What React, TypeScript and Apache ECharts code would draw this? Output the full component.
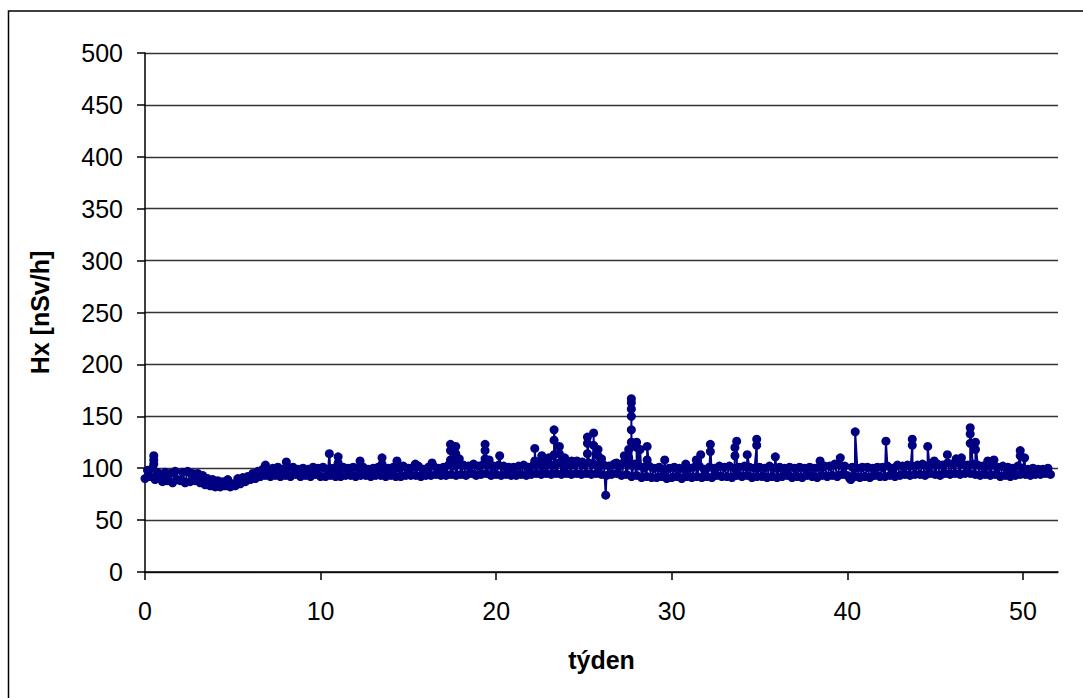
import React, { useEffect, useRef } from "react";
import * as echarts from "echarts";

// x-axis ticks (weeks) and y-axis ticks (nSv/h)
const xTickValues = [0, 10, 20, 30, 40, 50];
const yMin = 0;
const yMax = 500;
const yStep = 50;
const xMax = 52;

// Daily readings (7 per week), Hx in nSv/h
const baseline: number[] = [
  90, 98, 92, 100, 89, 96, 91, // week 0
  87, 96, 88, 95, 86, 97, 89, // 1
  88, 96, 86, 97, 87, 95, 88, // 2
  95, 86, 93, 84, 90, 83, 89, // 3
  82, 88, 82, 87, 83, 89, 82, // 4
  85, 83, 90, 85, 91, 87, 92, // 5
  89, 95, 90, 97, 92, 99, 93, // 6
  99, 92, 100, 93, 101, 92, 99, // 7
  93, 100, 92, 101, 94, 99, 92, // 8
  100, 93, 99, 92, 101, 94, 100, // 9
  92, 101, 92, 99, 93, 100, 92, // 10
  99, 92, 101, 93, 100, 93, 101, // 11
  92, 100, 93, 101, 93, 99, 92, // 12
  100, 93, 101, 93, 99, 92, 100, // 13
  93, 101, 92, 100, 92, 102, 93, // 14
  100, 93, 101, 93, 102, 92, 99, // 15
  93, 101, 93, 102, 94, 100, 93, // 16
  101, 93, 103, 94, 102, 93, 104, // 17
  94, 103, 93, 102, 95, 104, 93, // 18
  102, 94, 104, 95, 103, 93, 102, // 19
  94, 103, 93, 102, 94, 101, 93, // 20
  101, 93, 102, 94, 103, 93, 101, // 21
  94, 103, 95, 104, 94, 102, 95, // 22
  104, 94, 103, 95, 105, 94, 102, // 23
  95, 104, 94, 103, 95, 105, 94, // 24
  103, 95, 105, 94, 104, 95, 102, // 25
  94, 103, 93, 102, 94, 104, 95, // 26
  102, 93, 105, 94, 103, 92, 104, // 27
  93, 102, 91, 101, 92, 102, 91, // 28
  100, 91, 101, 92, 99, 90, 100, // 29
  91, 101, 92, 100, 90, 99, 92, // 30
  100, 91, 101, 92, 102, 91, 99, // 31
  92, 101, 91, 100, 93, 102, 92, // 32
  101, 92, 102, 91, 100, 93, 101, // 33
  92, 102, 93, 101, 91, 100, 92, // 34
  101, 92, 100, 91, 102, 92, 100, // 35
  91, 101, 92, 100, 93, 101, 91, // 36
  100, 92, 101, 91, 100, 93, 101, // 37
  92, 100, 91, 101, 93, 102, 92, // 38
  102, 93, 104, 92, 103, 94, 102, // 39
  93, 90, 101, 92, 100, 91, 101, // 40
  92, 101, 91, 100, 93, 101, 92, // 41
  101, 92, 102, 93, 100, 92, 103, // 42
  93, 102, 94, 103, 93, 102, 94, // 43
  103, 94, 104, 93, 102, 95, 103, // 44
  94, 104, 93, 103, 95, 105, 94, // 45
  104, 95, 105, 94, 104, 95, 103, // 46
  95, 104, 94, 103, 93, 102, 94, // 47
  102, 93, 103, 94, 101, 92, 102, // 48
  93, 101, 92, 100, 93, 102, 94, // 49
  100, 94, 99, 93, 100, 94, 99, // 50
  94, 99, 95, 100, 94, // 51
];

// Short peaks: week position and the successive readings at that time
const peakWeeks: number[] = [
  0.5, 6.86, 8.05, 10.5, 11.0, 12.25, 13.5, 14.35, 15.4, 16.35,
  17.4, 17.7, 17.9, 19.37, 19.6, 20.2, 22.2, 22.6, 22.8, 23.0,
  23.3, 23.6, 23.9, 24.3, 24.6, 24.9, 25.2, 25.55, 25.8, 26.0,
  26.24, 26.85, 27.3, 27.55, 27.7, 28.0, 28.2, 28.6, 29.6, 30.8,
  31.4, 31.65, 32.2, 33.6, 33.7, 34.3, 34.84, 35.9, 38.45, 39.6,
  40.2, 40.45, 42.2, 43.7, 44.58, 44.95, 45.7, 46.2, 46.5, 47.0,
  47.3, 48.0, 48.35, 49.85, 50.1,
];
const peakValues: number[][] = [
  [104, 112, 108], [103], [106], [114], [105, 111], [107], [104, 110], [107], [104], [105],
  [108, 117, 123], [114, 121], [109], [109, 117, 123], [108], [112], [107, 119], [107, 112], [109], [110],
  [113, 127, 137], [114, 121], [110], [107], [107], [106], [114, 124, 130], [122, 134], [112, 118], [109],
  [74], [105], [106, 112], [110, 118], [125, 137, 150, 157, 163, 167], [120, 125], [118], [108, 121], [108], [104],
  [108], [113], [116, 123], [112, 120], [126], [113], [122, 128], [111], [107], [110],
  [89], [135], [126], [122, 128], [121], [107], [113], [109], [110], [124, 133, 139],
  [118, 125], [107], [108], [112, 117], [110],
];

export default function App() {
  const ref = useRef<HTMLDivElement>(null);

  useEffect(() => {
    if (!ref.current) return;
    const chart = echarts.init(ref.current, undefined, { renderer: "svg" });

    const points: [number, number][] = [];
    baseline.forEach((v, i) => points.push([i / 7, v]));
    peakWeeks.forEach((w, k) => {
      peakValues[k].forEach((v) => points.push([w, v]));
    });
    points.sort((a, b) => a[0] - b[0]);

    const font = "'Liberation Sans', Arial, sans-serif";

    chart.setOption({
      animation: false,
      backgroundColor: "#ffffff",
      grid: { left: 145, right: 25, top: 53, bottom: 126, containLabel: false },
      graphic: [
        {
          type: "rect",
          silent: true,
          shape: { x: 8.5, y: 11, width: 1200, height: 800 },
          style: { fill: "none", stroke: "#000000", lineWidth: 1.5 },
        },
      ],
      xAxis: {
        type: "value",
        min: 0,
        max: xMax,
        interval: 10,
        name: "týden",
        nameLocation: "middle",
        nameGap: 75,
        nameTextStyle: { fontFamily: font, fontSize: 25, fontWeight: "bold", color: "#000" },
        axisLine: { show: true, onZero: false, lineStyle: { color: "#000", width: 1.5 } },
        axisTick: {
          show: true,
          inside: false,
          length: 8,
          customValues: xTickValues,
          lineStyle: { color: "#000", width: 1.5 },
        },
        axisLabel: {
          customValues: xTickValues,
          margin: 26,
          fontFamily: font,
          fontSize: 25,
          color: "#000",
        },
        splitLine: { show: false },
      },
      yAxis: {
        type: "value",
        min: yMin,
        max: yMax,
        interval: yStep,
        name: "Hx [nSv/h]",
        nameLocation: "middle",
        nameRotate: 90,
        nameGap: 93,
        nameTextStyle: { fontFamily: font, fontSize: 25, fontWeight: "bold", color: "#000" },
        axisLine: { show: true, lineStyle: { color: "#000", width: 1.5 } },
        axisTick: { show: true, inside: false, length: 8, lineStyle: { color: "#000", width: 1.5 } },
        axisLabel: { margin: 22, fontFamily: font, fontSize: 25, color: "#000" },
        splitLine: { show: true, lineStyle: { color: "#333333", width: 1.3 } },
      },
      series: [
        {
          type: "line",
          data: points,
          symbol: "circle",
          symbolSize: 9,
          showAllSymbol: true,
          itemStyle: { color: "#000080" },
          lineStyle: { color: "#000080", width: 2 },
          emphasis: { disabled: true },
        },
      ],
    });

    return () => chart.dispose();
  }, []);

  return (
    <div
      ref={ref}
      style={{ position: "absolute", left: 0, top: 0, width: 1083, height: 698 }}
    />
  );
}
